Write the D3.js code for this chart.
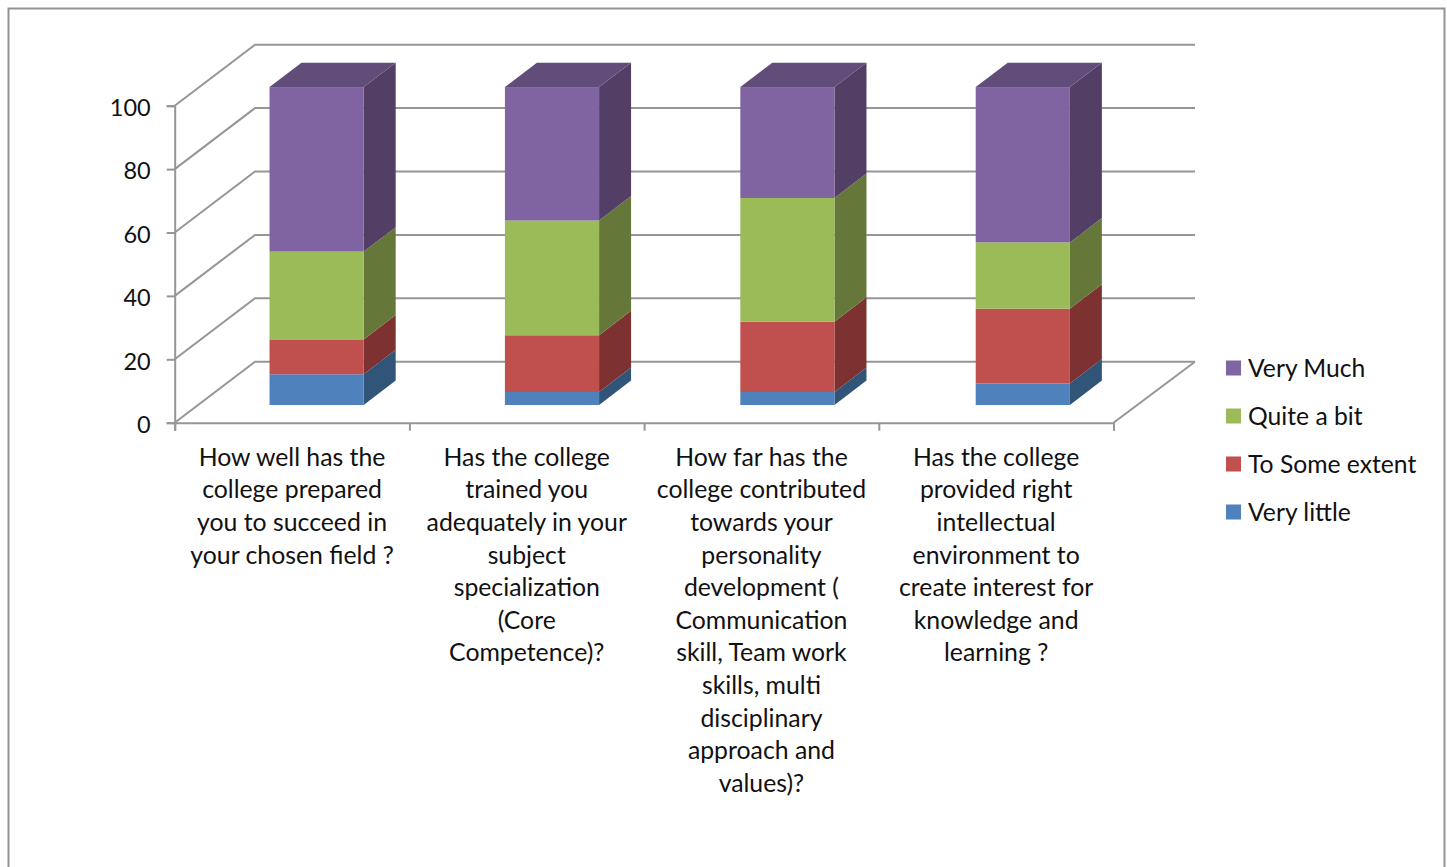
<!DOCTYPE html>
<html>
<head>
<meta charset="utf-8">
<script src="https://cdn.jsdelivr.net/npm/d3@7"></script>
<style>
  html, body { margin: 0; padding: 0; background: #fff; }
  text { font-family: Lato, "Open Sans", sans-serif; fill: #111; }
</style>
</head>
<body>
<svg id="chart" width="1447" height="867"></svg>
<script>
// Chart data
const categories = ["q1", "q2", "q3", "q4"];
const categoryLabels = [
    ["How well has the", "college prepared", "you to succeed in", "your chosen field ?"],
    ["Has the college", "trained you", "adequately in your", "subject", "specialization", "(Core", "Competence)?"],
    ["How far has the", "college contributed", "towards your", "personality", "development (", "Communication", "skill, Team work", "skills, multi", "disciplinary", "approach and", "values)?"],
    ["Has the college", "provided right", "intellectual", "environment to", "create interest for", "knowledge and", "learning ?"]
];
const seriesNames = ["Very little", "To Some extent", "Quite a bit", "Very Much"];
const veryLittle = [9.7, 4.1, 4.1, 6.8];
const toSomeExtent = [11, 17.9, 22.2, 23.6];
const quiteABit = [27.7, 36.2, 39, 20.9];
const veryMuch = [51.9, 42.1, 35, 49];
const yTicks = [0, 20, 40, 60, 80, 100];

const frontColors = ["#4f81bd", "#c0504d", "#9bbb59", "#8064a2"];
const sideColors = ["#315479", "#7d3231", "#65783a", "#533f66"];
const topColor = "#624c7a";
const lineColor = "#969696";

const rows = categories.map((c, i) => ({
    key: c,
    "Very little": veryLittle[i],
    "To Some extent": toSomeExtent[i],
    "Quite a bit": quiteABit[i],
    "Very Much": veryMuch[i]
}));
const stacked = d3.stack().keys(seriesNames)(rows);

const svg = d3.select("#chart");

// Outer frame, open at the bottom
svg.append("path")
    .attr("d", "M8.5,867V8.5H1444.5V867")
    .attr("fill", "none")
    .attr("stroke", "#939393")
    .attr("stroke-width", 2);

const y = d3.scaleLinear().domain([0, 100]).range([422.7, 105.7]);
// bars sit a touch wider apart than the axis ticks in the original
const x = d3.scaleBand().domain(categories).range([175.7, 1117.3])
    .paddingInner(0.6).paddingOuter(0.3);
const xEdges = d3.scaleLinear().domain([0, 4]).range([174.7, 1113.5]);
const xBackEdges = d3.scaleLinear().domain([0, 4]).range([255, 1195]);

// Oblique projection: depth 0 is the front of the floor, 1 the back wall
const depthX = d3.scaleLinear().domain([0, 1]).range([0, 80]);
const depthY = d3.scaleLinear().domain([0, 1]).range([0, -61]);
const barFront = 0.29, barBack = 0.69;

const walls = svg.append("g")
    .attr("fill", "none")
    .attr("stroke", lineColor)
    .attr("stroke-width", 2);

walls.selectAll("path.grid")
    .data(yTicks)
    .join("path")
    .attr("class", "grid")
    .attr("d", d => `M${xEdges(0)},${y(d)}L${xBackEdges(0)},${y(d) + depthY(1)}H${xBackEdges(4)}`);

// Right edge of the floor
walls.append("path")
    .attr("d", `M${xEdges(4)},${y(0)}L${xBackEdges(4)},${y(0) + depthY(1)}`);

// Bars
const barWidth = x.bandwidth();
const bars = svg.append("g");
stacked.forEach((s, si) => {
    const g = bars.append("g").attr("class", "series");
    const dx0 = depthX(barFront), dy0 = depthY(barFront);
    const dx = depthX(barBack) - dx0, dy = depthY(barBack) - dy0;

    g.selectAll("path.side")
        .data(s)
        .join("path")
        .attr("class", "side")
        .attr("fill", sideColors[si])
        .attr("d", d => {
            const px = x(d.data.key) + dx0 + barWidth;
            const y0 = y(d[0]) + dy0, y1 = y(d[1]) + dy0;
            return `M${px},${y0}V${y1}L${px + dx},${y1 + dy}V${y0 + dy}Z`;
        });

    g.selectAll("rect.front")
        .data(s)
        .join("rect")
        .attr("class", "front")
        .attr("fill", frontColors[si])
        .attr("x", d => x(d.data.key) + dx0)
        .attr("y", d => y(d[1]) + dy0)
        .attr("width", barWidth)
        .attr("height", d => y(d[0]) - y(d[1]));

    if (si === stacked.length - 1) {
        g.selectAll("path.top")
            .data(s)
            .join("path")
            .attr("class", "top")
            .attr("fill", topColor)
            .attr("d", d => {
                const px = x(d.data.key) + dx0;
                const py = y(d[1]) + dy0;
                return `M${px},${py}L${px + dx},${py + dy}H${px + dx + barWidth}L${px + barWidth},${py}Z`;
            });
    }
});

// Axes
const yAxis = svg.append("g")
    .attr("transform", `translate(${xEdges(0)},0)`)
    .call(d3.axisLeft(y).tickValues(yTicks).tickSize(8).tickPadding(16));
yAxis.selectAll("text").style("font-size", "23.5px").attr("dy", "0.42em");

const xAxis = svg.append("g")
    .attr("transform", `translate(0,${y(0)})`)
    .call(d3.axisBottom(xEdges).ticks(4).tickSize(8).tickFormat(""));

svg.selectAll(".domain, .tick line")
    .attr("stroke", lineColor)
    .attr("stroke-width", 2);

// Wrapped category labels
const labels = svg.append("g")
    .attr("text-anchor", "middle")
    .style("font-size", "24.8px");
categories.forEach((c, i) => {
    const cx = xEdges(i + 0.5);
    labels.append("text")
        .attr("x", cx)
        .attr("y", 465.7)
        .selectAll("tspan")
        .data(categoryLabels[i])
        .join("tspan")
        .attr("x", cx)
        .attr("dy", (d, j) => j === 0 ? 0 : 32.6)
        .text(d => d);
});

// Legend, top series first
const legendY = d3.scalePoint().domain(seriesNames.slice().reverse()).range([368, 512]);
const legend = svg.append("g");
seriesNames.forEach((name, i) => {
    legend.append("rect")
        .attr("x", 1226)
        .attr("y", legendY(name) - 7.5)
        .attr("width", 15)
        .attr("height", 15)
        .attr("fill", frontColors[i]);
    legend.append("text")
        .attr("x", 1248)
        .attr("y", legendY(name) + 8.7)
        .style("font-size", "24.7px")
        .text(name);
});
</script>
</body>
</html>
